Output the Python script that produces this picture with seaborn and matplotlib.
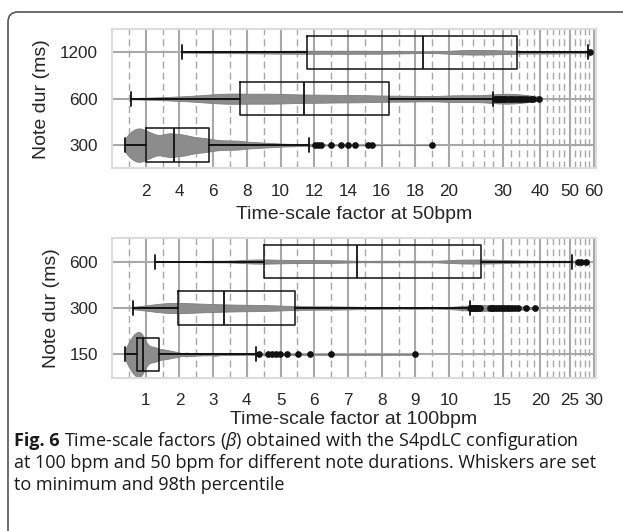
import numpy as np
import pandas as pd
import matplotlib
matplotlib.use("Agg")
from matplotlib import pyplot as plt
from matplotlib.patches import FancyBboxPatch
import seaborn as sns

# ---------------- 50 bpm panel (top) ----------------
bpm50_durations = ["1200", "600", "300"]
bpm50_ticks = [2, 4, 6, 8, 10, 12, 14, 16, 18, 20, 30, 40, 50, 60]

# rough histograms: bin value -> count
bpm50_1200_vals = [4.17, 5, 6, 7, 8, 9, 10, 11, 12, 13, 14, 15, 16, 17, 18, 20, 22, 24, 26, 28, 30, 32, 35, 38, 41, 44, 47, 50, 53, 57.6]
bpm50_1200_counts = [1, 1, 2, 2, 3, 3, 4, 4, 4, 4, 4, 4, 4, 3, 3, 4, 4, 5, 4, 3, 3, 2, 2, 2, 2, 2, 2, 1, 1, 1]
bpm50_1200_box = [4.17, 11.58, 18.46, 33.4, 57.6]  # min, q1, median, q3, p98
bpm50_1200_fliers = [58.3]

bpm50_600_vals = [1.13, 2, 3, 4, 5, 6, 7, 8, 9, 10, 11, 12, 13, 14, 15, 16, 17, 18, 19, 20, 21, 22, 23, 24, 25, 26, 28]
bpm50_600_counts = [1, 1, 2, 3, 4, 6, 8, 6, 7, 7, 5, 6, 5, 5, 5, 4, 4, 4, 3, 3, 2, 2, 2, 1, 1, 1, 1]
bpm50_600_box = [1.13, 7.6, 11.38, 16.42, 28.0]
bpm50_600_fliers = [28.3, 28.6, 28.9, 29.2, 29.6, 30.0, 30.4, 30.9, 31.4, 31.9, 32.5, 33.2, 33.9, 34.6, 35.4, 36.2, 37.1, 37.9, 39.6]

bpm50_300_vals = [0.79, 0.9, 1.0, 1.1, 1.2, 1.3, 1.4, 1.5, 1.6, 1.7, 1.8, 1.9,
                  2.1, 2.2, 2.3, 2.4, 2.5, 2.6, 2.7, 2.8, 2.9, 3.0, 3.1, 3.2, 3.3, 3.4, 3.5, 3.6,
                  3.7, 3.8, 3.9, 4.0, 4.1, 4.2, 4.3, 4.4, 4.5, 4.6, 4.7, 4.8, 4.9, 5.0, 5.1, 5.2, 5.3, 5.4, 5.5, 5.6, 5.7,
                  6.0, 6.5, 7.0, 7.5, 8.0, 8.5, 9.0, 9.5, 10.0, 10.5, 11.0, 11.7]
bpm50_300_counts = [6, 8, 9, 9, 10, 10, 11, 12, 12, 12, 13, 13,
                    13, 11, 9, 7, 6, 6, 6, 6, 6, 7, 7, 8, 8, 9, 8, 8,
                    7, 7, 7, 8, 7, 7, 7, 7, 6, 6, 6, 5, 5, 5, 5, 5, 5, 5, 5, 5, 5,
                    17, 16, 15, 15, 11, 10, 8, 7, 5, 4, 4, 3]
bpm50_300_box = [0.79, 2.03, 3.68, 5.75, 11.7]
bpm50_300_fliers = [12.07, 12.2, 12.42, 12.99, 13.58, 13.99, 14.43, 15.16, 15.44, 18.97]

# ---------------- 100 bpm panel (bottom) ----------------
bpm100_durations = ["600", "300", "150"]
bpm100_ticks = [1, 2, 3, 4, 5, 6, 7, 8, 9, 10, 15, 20, 25, 30]

bpm100_600_vals = [1.28, 2, 3, 4, 4.5, 5, 5.5, 6, 6.5, 7, 8, 9, 10, 11, 12, 13, 14, 15, 16, 18, 20, 22, 24, 25.5]
bpm100_600_counts = [1, 3, 5, 8, 8, 6, 5, 5, 5, 4, 5, 5, 5, 5, 5, 4, 4, 3, 3, 3, 2, 2, 1, 1]
bpm100_600_box = [1.28, 4.52, 7.26, 12.77, 25.5]
bpm100_600_fliers = [26.5, 27.2, 28.3]

bpm100_300_vals = [0.61, 0.8, 1.0, 1.2, 1.4, 1.6, 1.8, 1.95, 2.2, 2.5, 2.8, 3.1, 3.3,
                   3.6, 4.0, 4.4, 4.8, 5.2, 5.8, 6.5, 7.2, 8.0, 9.0, 10.0, 11.0, 11.7]
bpm100_300_counts = [1, 1, 2, 3, 4, 5, 5, 4, 6, 6, 5, 5, 3,
                     5, 6, 5, 5, 4, 5, 5, 4, 3, 3, 2, 1, 1]
bpm100_300_box = [0.61, 1.96, 3.32, 5.43, 11.71]
bpm100_300_fliers = [11.75, 11.85, 11.95, 12.05, 12.15, 12.3, 12.45, 12.6, 13.6, 13.8, 14.0,
                     14.3, 14.6, 14.9, 15.2, 15.5, 15.8, 16.1, 16.5, 16.9, 17.9, 19.2]

bpm100_150_vals = [0.40, 0.45, 0.50, 0.55, 0.60, 0.65, 0.70, 0.75, 0.80, 0.85, 0.90,
                   0.95, 1.00, 1.05, 1.10, 1.15, 1.20, 1.25, 1.30, 1.35,
                   1.4, 1.5, 1.6, 1.7, 1.8, 1.9, 2.0, 2.2, 2.4, 2.6, 2.8, 3.0, 3.1, 3.3, 3.5, 3.7, 3.9, 4.1, 4.27]
bpm100_150_counts = [7, 12, 16, 20, 23, 26, 28, 29, 30, 29, 28,
                     24, 12, 11, 10, 10, 10, 10, 9, 9,
                     8, 14, 12, 10, 8, 7, 6, 9, 7, 5, 4, 4, 4, 3, 3, 2, 2, 1, 1]
bpm100_150_box = [0.40, 0.74, 0.91, 1.38, 4.27]
bpm100_150_fliers = [4.37, 4.64, 4.74, 4.86, 4.98, 5.2, 5.51, 5.86, 6.49, 8.99]

GRID = "#a8a8a8"
VIOLIN = "#8c8c8c"
TEXT = "#262626"
FIG_W, FIG_H = 623, 531

sns.set_style("white")
plt.rcParams["font.family"] = ["Liberation Sans", "DejaVu Sans"]
plt.rcParams["mathtext.fontset"] = "custom"
plt.rcParams["mathtext.rm"] = "Open Sans"
plt.rcParams["mathtext.it"] = "Open Sans:italic"
plt.rcParams["mathtext.bf"] = "Open Sans:bold"


def draw_panel(ax, durations, groups, violin_widths, bw, linthresh, xmax, ticks, minor,
               xlabel, labelpad):
    ax.set_xscale("symlog", linthresh=linthresh, linscale=1)

    # violins, one call per note duration so each keeps its own width
    for dur, (vals, counts, box, fliers), vw in zip(durations, groups, violin_widths):
        obs = np.concatenate([np.repeat(vals, counts), fliers])
        df = pd.DataFrame({"factor": obs, "dur": dur})
        sns.violinplot(data=df, x="factor", y="dur", order=durations, orient="h",
                       inner=None, cut=0, width=vw, density_norm="width",
                       bw_adjust=bw, gridsize=400, color=VIOLIN, saturation=1,
                       linewidth=0.6, linecolor="#7d7d7d", ax=ax)

    # boxes: whiskers at minimum and 98th percentile
    stats = []
    for vals, counts, box, fliers in groups:
        stats.append(dict(whislo=box[0], q1=box[1], med=box[2], q3=box[3],
                          whishi=box[4], fliers=fliers))
    ax.bxp(stats, positions=range(len(stats)), orientation="horizontal",
           widths=0.72, capwidths=0.3, manage_ticks=False,
           boxprops=dict(color="#111111", linewidth=1.1),
           medianprops=dict(color="#111111", linewidth=1.3),
           whiskerprops=dict(color="#111111", linewidth=1.4),
           capprops=dict(color="#111111", linewidth=1.3),
           flierprops=dict(marker="o", markerfacecolor="#111111",
                           markeredgecolor="#111111", markersize=3.8))

    ax.set_xlim(0, xmax)
    ax.set_ylim(len(durations) - 0.5, -0.5)
    ax.set_xticks(ticks, [str(t) for t in ticks])
    ax.set_xticks(minor, minor=True)
    ax.set_yticks(range(len(durations)), durations)
    ax.set_axisbelow(True)
    ax.grid(True, which="major", axis="both", color=GRID, linewidth=1.5)
    ax.grid(True, which="minor", axis="x", color=GRID, linewidth=1.0, linestyle=(0, (5, 3)))
    ax.tick_params(which="both", length=0, labelsize=12.3, labelcolor=TEXT)
    ax.tick_params(axis="x", pad=11)
    ax.tick_params(axis="y", pad=10)
    for sp in ax.spines.values():
        sp.set_color("#dcdcdc")
        sp.set_linewidth(1.5)
    ax.set_xlabel(xlabel, fontsize=14, color=TEXT, labelpad=labelpad)
    ax.set_ylabel("Note dur (ms)", fontsize=14, color=TEXT, labelpad=7)


fig = plt.figure(figsize=(FIG_W / 100, FIG_H / 100), dpi=100)
ax1 = fig.add_axes([0.1798, 0.683, 0.7769, 0.2623])
ax2 = fig.add_axes([0.1798, 0.2887, 0.7769, 0.2625])

minor50 = list(np.arange(1, 20, 2)) + [v for v in range(22, 60, 2) if v % 10 != 0]
minor100 = list(np.arange(0.5, 10, 1.0)) + [v for v in range(11, 30) if v % 5 != 0]

draw_panel(ax1, bpm50_durations,
           [(bpm50_1200_vals, bpm50_1200_counts, bpm50_1200_box, bpm50_1200_fliers),
            (bpm50_600_vals, bpm50_600_counts, bpm50_600_box, bpm50_600_fliers),
            (bpm50_300_vals, bpm50_300_counts, bpm50_300_box, bpm50_300_fliers)],
           [0.1, 0.22, 0.72], 0.35, 20, 61, bpm50_ticks, minor50,
           "Time-scale factor at 50bpm", 5)
draw_panel(ax2, bpm100_durations,
           [(bpm100_600_vals, bpm100_600_counts, bpm100_600_box, bpm100_600_fliers),
            (bpm100_300_vals, bpm100_300_counts, bpm100_300_box, bpm100_300_fliers),
            (bpm100_150_vals, bpm100_150_counts, bpm100_150_box, bpm100_150_fliers)],
           [0.09, 0.22, 0.97], 0.3, 10, 30.5, bpm100_ticks, minor100,
           "Time-scale factor at 100bpm", 2.5)

# journal figure frame
frame = FancyBboxPatch((0.08, -0.5), 7.0, FIG_H / 100 - 0.12 + 0.5,
                       boxstyle="round,pad=0,rounding_size=0.1",
                       transform=fig.dpi_scale_trans, facecolor="none",
                       edgecolor="#555555", linewidth=1.2)
fig.add_artist(frame)

# caption: bold "Fig. 6" followed by regular text
cap_kw = dict(fontsize=13, family="Open Sans", color="#1a1a1a", va="baseline", ha="left")
caption = ["Time-scale factors ($\\beta$) obtained with the S4pdLC configuration",
           "at 100 bpm and 50 bpm for different note durations. Whiskers are set",
           "to minimum and 98th percentile"]
renderer = fig.canvas.get_renderer()
x0 = 14 / FIG_W
head = fig.text(x0, 1 - 446 / FIG_H, "Fig. 6", weight="bold", **cap_kw)
head_end = head.get_window_extent(renderer).x1 + 4
for i, line in enumerate(caption):
    x = head_end / FIG_W if i == 0 else x0
    fig.text(x, 1 - (446 + 21.8 * i) / FIG_H, line, **cap_kw)

fig.savefig("out.png", dpi=100)
